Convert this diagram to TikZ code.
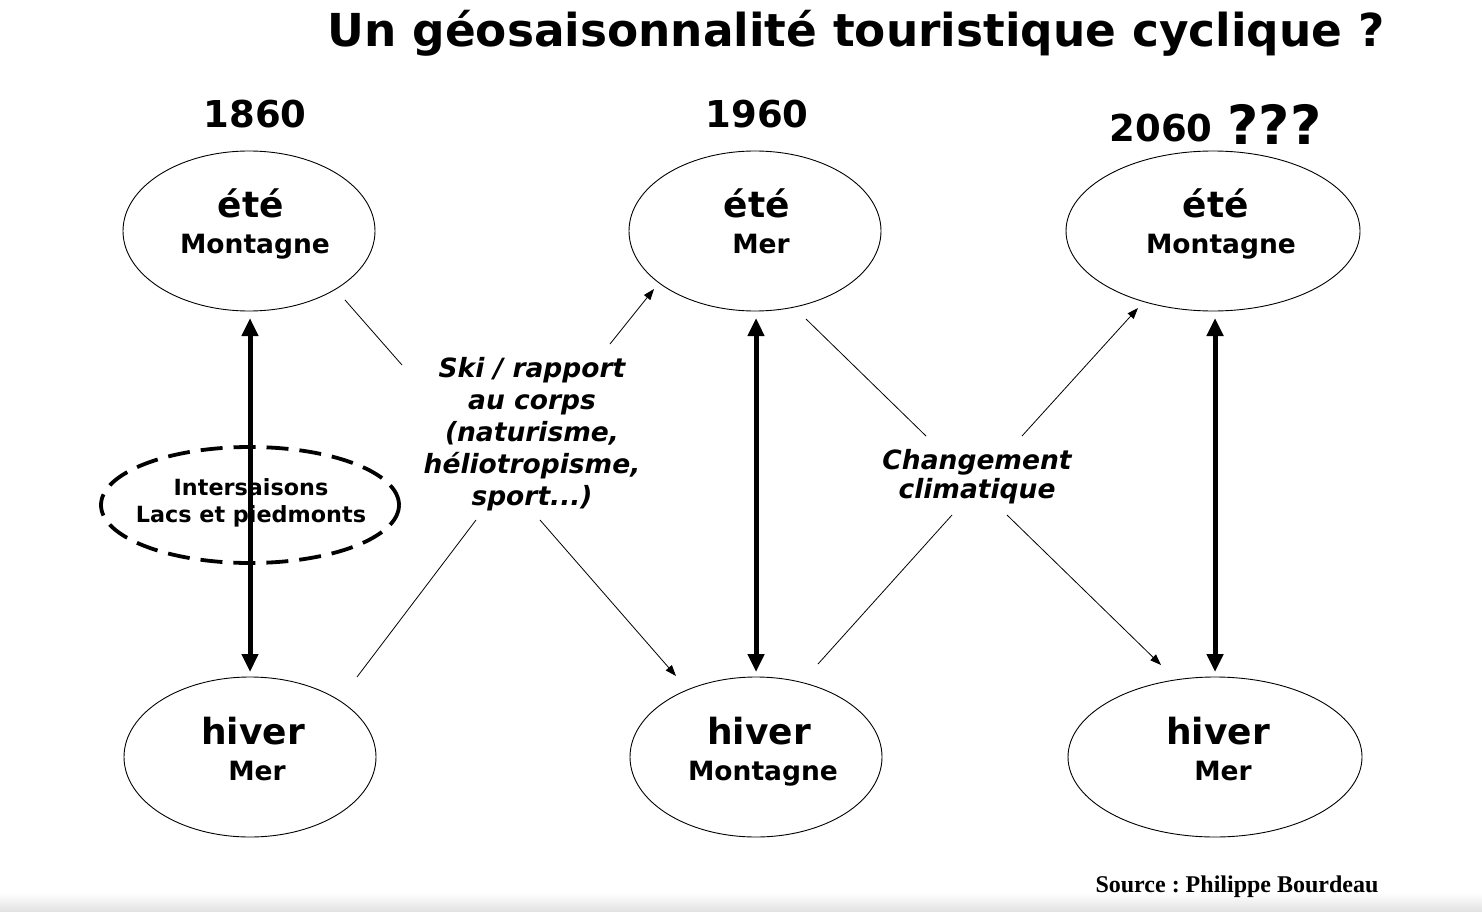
\documentclass[tikz,border=0pt]{standalone}
\usepackage{fontspec}
\setmainfont{DejaVu Sans}
\newfontfamily\srcfont{Liberation Serif}
\usetikzlibrary{arrows.meta,shapes.geometric}
\frenchspacing
\begin{document}
\begin{tikzpicture}[x=1pt,y=-1pt,
  season/.style={draw,ellipse,line width=0.9pt,minimum width=252pt,minimum height=160pt,inner sep=0pt},
  bigtxt/.style={anchor=base,font=\fontsize{36}{40}\selectfont\bfseries},
  smalltxt/.style={anchor=base,font=\fontsize{26.5}{30}\selectfont\bfseries},
  cycle/.style={line width=5pt,{Triangle[length=18pt,width=16pt]}-{Triangle[length=18pt,width=16pt]}},
  thin/.style={line width=0.8pt},
  thinarrow/.style={line width=0.8pt,-{Triangle[length=11pt,width=8pt]}},
  labeltxt/.style={align=center,font=\fontsize{26.5}{32}\selectfont\bfseries\itshape},
  year/.style={font=\fontsize{37}{40}\selectfont\bfseries}]
\useasboundingbox (0,0) rectangle (1482,912);
\shade[top color=white,bottom color=black!12] (0,893) rectangle (1482,912);
% title
\node[font=\fontsize{45.4}{50}\selectfont\bfseries] (title) at (856,33) {Un géosaisonnalité touristique cyclique ?};
% years
\node[year] (y1) at (255,114) {1860};
\node[year] (y2) at (757,114) {1960};
\node[year,anchor=east] (y3) at (1216,128) {2060};
\node[font=\fontsize{54}{56}\selectfont\bfseries,anchor=west] (y3q) at (1224,124) {???};
% ellipses
\node[season] (e1) at (249,231) {};
\node[season] (e2) at (755,231) {};
\node[season,minimum width=294pt] (e3) at (1213,231) {};
\node[season] (h1) at (250,757) {};
\node[season] (h2) at (756,757) {};
\node[season,minimum width=294pt] (h3) at (1215,757) {};
% texts
\node[bigtxt] (e1a) at (251,217) {été};
\node[smalltxt] (e1b) at (255,253) {Montagne};
\node[bigtxt] (e2a) at (757,217) {été};
\node[smalltxt] (e2b) at (761,253) {Mer};
\node[bigtxt] (e3a) at (1216,217) {été};
\node[smalltxt] (e3b) at (1221,253) {Montagne};
\node[bigtxt] (h1a) at (253,744) {hiver};
\node[smalltxt] (h1b) at (257,780) {Mer};
\node[bigtxt] (h2a) at (759,744) {hiver};
\node[smalltxt] (h2b) at (763,780) {Montagne};
\node[bigtxt] (h3a) at (1218,744) {hiver};
\node[smalltxt] (h3b) at (1223,780) {Mer};
% dashed intersaisons
\node[draw,ellipse,dash pattern=on 22pt off 11pt,line width=3.8pt,minimum width=298pt,minimum height=116pt,inner sep=0pt] (inter) at (250,505) {};
% cycle arrows
\coordinate (c1t) at (250,318);
\coordinate (c1b) at (250,672);
\coordinate (c2t) at (756,318);
\coordinate (c2b) at (756,672);
\coordinate (c3t) at (1215,318);
\coordinate (c3b) at (1215,672);
\draw[cycle] (c1t) -- (c1b);
\draw[cycle] (c2t) -- (c2b);
\draw[cycle] (c3t) -- (c3b);
\node[align=center,font=\fontsize{22.3}{27}\selectfont\bfseries] (intertxt) at (251,503) {Intersaisons\\Lacs et piedmonts};
% labels
\node[labeltxt] (lab1) at (532,434) {Ski / rapport\\au corps\\(naturisme,\\héliotropisme,\\sport...)};
\node[labeltxt,font=\fontsize{26.5}{29}\selectfont\bfseries\itshape] (lab2) at (977,477) {Changement\\climatique};
% connector end points
\coordinate (a1) at (345,300); \coordinate (a2) at (402,365);
\coordinate (a3) at (540,520); \coordinate (a4) at (676,676);
\coordinate (b1) at (357,677); \coordinate (b2) at (476,520);
\coordinate (b3) at (610,344); \coordinate (b4) at (654,289);
\coordinate (d1) at (806,319); \coordinate (d2) at (926,436);
\coordinate (d3) at (1007,515); \coordinate (d4) at (1161,665);
\coordinate (f1) at (818,664); \coordinate (f2) at (952,515);
\coordinate (f3) at (1022,436); \coordinate (f4) at (1138,308);
\draw[thin] (a1) -- (a2);
\draw[thinarrow] (a3) -- (a4);
\draw[thin] (b1) -- (b2);
\draw[thinarrow] (b3) -- (b4);
\draw[thin] (d1) -- (d2);
\draw[thinarrow] (d3) -- (d4);
\draw[thin] (f1) -- (f2);
\draw[thinarrow] (f3) -- (f4);
% source
\node[font=\fontsize{24}{26}\selectfont\srcfont\bfseries] (src) at (1237,887) {Source : Philippe Bourdeau};
\end{tikzpicture}
\end{document}
